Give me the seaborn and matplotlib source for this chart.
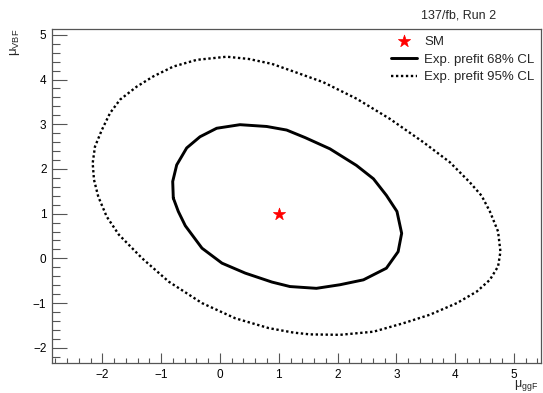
import matplotlib
matplotlib.use("Agg")
import matplotlib.pyplot as plt
import seaborn as sns
import pandas as pd
from matplotlib.ticker import MultipleLocator

# ---- data ----
cl68_x = [-0.794, -0.804, -0.736, -0.566, -0.34, -0.056, 0.34, 0.794, 1.134, 1.45, 1.87, 2.32,
          2.61, 2.83, 3.01, 3.09, 3.03, 2.83, 2.44, 2.04, 1.64, 1.19, 0.884, 0.43, 0.034, -0.306,
          -0.59, -0.709, -0.794]
cl68_y = [1.35, 1.72, 2.09, 2.47, 2.72, 2.91, 2.99, 2.95, 2.87, 2.70, 2.45, 2.08,
          1.78, 1.41, 1.05, 0.56, 0.15, -0.22, -0.48, -0.59, -0.67, -0.63, -0.53, -0.33, -0.107, 0.228,
          0.73, 1.05, 1.35]
cl95_x = [-2.07, -2.143, -2.165, -2.126, -2.01, -1.87, -1.70, -1.417, -1.134, -0.794, -0.396,
          0.114, 0.488, 0.884, 1.25, 1.757, 2.325, 2.89, 3.457, 3.91, 4.25, 4.45, 4.59, 4.73, 4.77,
          4.73, 4.59, 4.37, 4.03, 3.57, 3.12, 2.61, 2.04, 1.53, 1.25, 0.83, 0.26, -0.306, -0.872,
          -1.327, -1.72, -1.927, -2.07]
cl95_y = [1.38, 1.76, 2.13, 2.50, 2.87, 3.25, 3.55, 3.84, 4.07, 4.29, 4.44,
          4.51, 4.46, 4.35, 4.18, 3.94, 3.57, 3.12, 2.60, 2.15, 1.70, 1.40, 1.05, 0.60, 0.15,
          -0.18, -0.48, -0.74, -1.00, -1.26, -1.45, -1.64, -1.71, -1.70, -1.66, -1.56, -1.34, -1.00, -0.52,
          0.005, 0.53, 0.935, 1.38]
sm_x = [1.0]
sm_y = [1.0]
labels = ["SM", "Exp. prefit 68% CL", "Exp. prefit 95% CL"]
title = "137/fb, Run 2"

sns.set_style("ticks")
plt.rcParams["font.family"] = ["Liberation Sans", "DejaVu Sans"]
plt.rcParams["mathtext.fontset"] = "custom"
plt.rcParams["mathtext.rm"] = "Liberation Sans"
plt.rcParams["mathtext.it"] = "Liberation Sans:italic"

fig = plt.figure(figsize=(5.43, 3.93), dpi=100)
ax = fig.add_axes([52 / 543, 1 - 363 / 393, 489 / 543, 334 / 393])

df68 = pd.DataFrame({"x": cl68_x, "y": cl68_y})
df95 = pd.DataFrame({"x": cl95_x, "y": cl95_y})
dfsm = pd.DataFrame({"x": sm_x, "y": sm_y})

sns.scatterplot(data=dfsm, x="x", y="y", marker="*", s=85, color="#ff0000",
                edgecolor="#ff0000", linewidth=0.5, ax=ax, label=labels[0], zorder=5)
sns.lineplot(data=df68, x="x", y="y", sort=False, estimator=None, color="black",
             linewidth=2.1, ax=ax, label=labels[1])
sns.lineplot(data=df95, x="x", y="y", sort=False, estimator=None, color="black",
             linewidth=1.7, linestyle=(0, (1, 1.1)), ax=ax, label=labels[2])
for ln in ax.get_lines():
    ln.set_solid_joinstyle("round")
    ln.set_dash_joinstyle("round")

ax.set_xlim(-2.857, 5.46)
ax.set_ylim(-2.34, 5.13)

ax.xaxis.set_major_locator(MultipleLocator(1))
ax.xaxis.set_minor_locator(MultipleLocator(0.2))
ax.yaxis.set_major_locator(MultipleLocator(1))
ax.yaxis.set_minor_locator(MultipleLocator(0.2))
ax.tick_params(axis="both", which="both", direction="in", colors="#555555",
               labelcolor="black", labelsize=8.5, top=False, right=False)
ax.tick_params(axis="x", which="major", length=7, width=0.8, pad=4)
ax.tick_params(axis="x", which="minor", length=3.5, width=0.8)
ax.tick_params(axis="y", which="major", length=11, width=0.8, pad=4)
ax.tick_params(axis="y", which="minor", length=5.5, width=0.8)
for s in ax.spines.values():
    s.set_color("#555555")
    s.set_linewidth(0.9)

ax.set_xlabel(r"$\mathrm{\mu_{ggF}}$", fontsize=9)
ax.set_ylabel(r"$\mathrm{\mu_{VBF}}$", loc="top", fontsize=9.5, labelpad=8)
ax.xaxis.set_label_coords(0.995, -0.045)
ax.xaxis.label.set_ha("right")
ax.xaxis.label.set_va("top")

ax.legend(loc="upper right", bbox_to_anchor=(1.0, 1.0), frameon=False, fontsize=9.5,
          handlelength=1.97, handletextpad=0.53, borderaxespad=0.1, labelspacing=0.42,
          markerscale=1.0)

fig.text(458.5 / 543, 1 - 15.5 / 393, title, ha="center", va="center", fontsize=9)

fig.savefig("out.png", dpi=100)
